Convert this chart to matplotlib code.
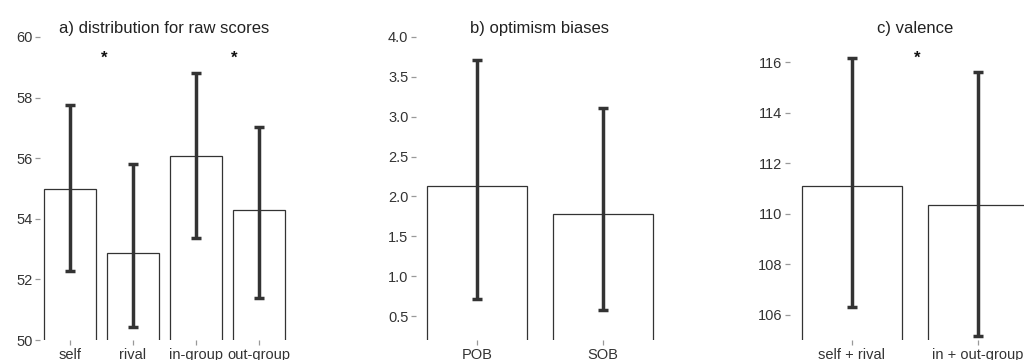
import matplotlib
matplotlib.use("Agg")
import matplotlib.pyplot as plt

plt.rcParams['font.family'] = ['Liberation Sans', 'DejaVu Sans']

# Panel a
a_cats = ["self", "rival", "in-group", "out-group"]
a_means = [55.0, 52.87, 56.08, 54.3]
a_low = [52.27, 50.43, 53.38, 51.4]
a_high = [57.76, 55.8, 58.82, 57.03]
a_yticks = [50, 52, 54, 56, 58, 60]
a_stars_x = [1.55, 3.6]
a_stars_y = [59.3, 59.3]

# Panel b
b_cats = ["POB", "SOB"]
b_means = [2.13, 1.78]
b_low = [0.71, 0.57]
b_high = [3.71, 3.11]
b_yticks = [0.5, 1.0, 1.5, 2.0, 2.5, 3.0, 3.5, 4.0]
b_ticklabels = ["0.5", "1.0", "1.5", "2.0", "2.5", "3.0", "3.5", "4.0"]

# Panel c
c_cats = ["self + rival", "in + out-group"]
c_means = [111.08, 110.36]
c_low = [106.3, 105.17]
c_high = [116.18, 115.63]
c_yticks = [106, 108, 110, 112, 114, 116]
c_stars_x = [1.52]
c_stars_y = [116.15]

W, H = 1024, 360
fig = plt.figure(figsize=(W / 100, H / 100), dpi=100)

def add_ax(left_px, right_px):
    bottom_px, top_px = 340, 37
    return fig.add_axes([left_px / W, 1 - bottom_px / H,
                         (right_px - left_px) / W, (bottom_px - top_px) / H])

EDGE = "#333333"

def draw(ax, cats, means, low, high, ylim, yticks, title, width, ticklabels=None):
    x = list(range(1, len(cats) + 1))
    ax.bar(x, means, width=width, color="white", edgecolor=EDGE, linewidth=0.9, zorder=1)
    yerr = [[m - l for m, l in zip(means, low)], [h - m for m, h in zip(means, high)]]
    ax.errorbar(x, means, yerr=yerr, fmt="none", ecolor=EDGE, elinewidth=2.5,
                capsize=3.8, capthick=2.5, zorder=3)
    ax.set_ylim(*ylim)
    ax.set_yticks(yticks)
    if ticklabels is not None:
        ax.set_yticklabels(ticklabels)
    ax.set_xticks(x)
    ax.set_xticklabels(cats)
    for s in ax.spines.values():
        s.set_visible(False)
    ax.tick_params(axis="both", colors="#999999", labelcolor="#333333", labelsize=10.5,
                   length=3.5, width=0.9, pad=2)
    ax.set_title(title, fontsize=12, color="#222222", pad=3)

ax1 = add_ax(40, 289)
draw(ax1, a_cats, a_means, a_low, a_high, (50, 60), a_yticks,
     "a) distribution for raw scores", 0.82)
ax1.set_xlim(1 - 30 / 63, 4 + 30 / 63)
for sx, sy in zip(a_stars_x, a_stars_y):
    ax1.text(sx, sy, "*", ha="center", va="center", fontsize=12, fontweight="bold", color="#111111")

ax2 = add_ax(416, 664)
draw(ax2, b_cats, b_means, b_low, b_high, (0.2, 4.0), b_yticks,
     "b) optimism biases", 0.8, b_ticklabels)
ax2.set_xlim(1 - 61 / 126, 2 + 61 / 126)

ax3 = add_ax(790, 1040)
draw(ax3, c_cats, c_means, c_low, c_high, (105, 117), c_yticks,
     "c) valence", 0.8)
ax3.set_xlim(1 - 62 / 126, 2 + 62 / 126)
for sx, sy in zip(c_stars_x, c_stars_y):
    ax3.text(sx, sy, "*", ha="center", va="center", fontsize=12, fontweight="bold", color="#111111")

fig.savefig("out.png", dpi=100, facecolor="white")
